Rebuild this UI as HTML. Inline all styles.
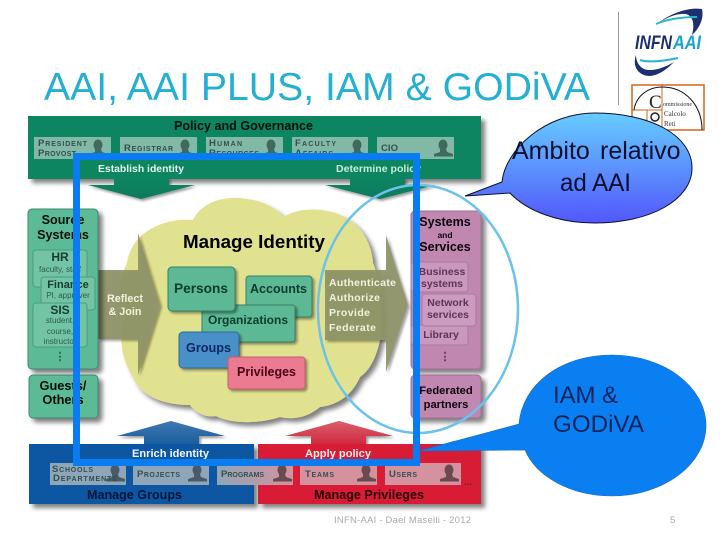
<!DOCTYPE html>
<html><head><meta charset="utf-8"><style>
html,body{margin:0;padding:0;background:#fff}
svg{display:block}
text{font-family:"Liberation Sans",sans-serif}
.b{font-weight:bold}
.c{font-weight:bold;fill:#33504f;font-size:9.5px;font-variant:small-caps}
</style></head><body>
<svg width="720" height="540" viewBox="0 0 720 540" xmlns="http://www.w3.org/2000/svg">
<defs>
<filter id="s" x="-20%" y="-20%" width="150%" height="150%"><feGaussianBlur in="SourceAlpha" stdDeviation="2.5"/><feOffset dx="4" dy="4"/><feComponentTransfer><feFuncA type="linear" slope=".5"/></feComponentTransfer><feMerge><feMergeNode/><feMergeNode in="SourceGraphic"/></feMerge></filter>
<filter id="s2" x="-20%" y="-20%" width="150%" height="150%"><feGaussianBlur in="SourceAlpha" stdDeviation="1.2"/><feOffset dx="2" dy="2"/><feComponentTransfer><feFuncA type="linear" slope=".4"/></feComponentTransfer><feMerge><feMergeNode/><feMergeNode in="SourceGraphic"/></feMerge></filter>
<filter id="soft"><feGaussianBlur stdDeviation="0.25"/></filter>
<linearGradient id="g1" x1="0" y1="0" x2="0" y2="1"><stop offset="0" stop-color="#66ccff"/><stop offset="1" stop-color="#5257fb"/></linearGradient>
<linearGradient id="gp" x1="0" y1="0" x2="1" y2="0"><stop offset="0" stop-color="#8fa6b8"/><stop offset="1" stop-color="#d4929e"/></linearGradient>
<linearGradient id="ga" x1="0" y1="0" x2="0" y2="1"><stop offset="0" stop-color="#0f8560"/><stop offset="1" stop-color="#0c7a5c"/></linearGradient>
<linearGradient id="gb" x1="0" y1="0" x2="0" y2="1"><stop offset="0" stop-color="#3f78b0"/><stop offset="1" stop-color="#1a5ea0"/></linearGradient>
<linearGradient id="gr" x1="0" y1="0" x2="0" y2="1"><stop offset="0" stop-color="#d8606a"/><stop offset="1" stop-color="#d02a40"/></linearGradient>
<g id="man"><ellipse cx="0" cy="-11" rx="4.500" ry="5.500"/><path d="M-3-7h6l1 3 6 2v2.500h-19v-2.500l6-2z"/></g>
</defs>
<rect width="720" height="540" fill="#fff"/>

<text x="44" y="100" font-size="39" fill="#24b0d2" textLength="546" lengthAdjust="spacingAndGlyphs">AAI, AAI PLUS, IAM &amp; GODiVA</text>

<!-- logo -->
<line x1="618.500" y1="12" x2="618.500" y2="105" stroke="#999" stroke-width="1"/>
<path d="M657 24C672 12 690 7 702 9 704 18 700 28 692 35 695 24 693 16 686 14 676 13 666 18 657 24Z" fill="#1c2f6e"/>
<path d="M656 24C670 18 684 17 697 17" fill="none" stroke="#2ab4d0" stroke-width="2"/>
<text x="635" y="49" font-size="19" class="b" font-style="italic" fill="#1c2f6e" textLength="37" lengthAdjust="spacingAndGlyphs">INFN</text>
<text x="673" y="49" font-size="19" class="b" font-style="italic" fill="#1aa4cc" textLength="28" lengthAdjust="spacingAndGlyphs">AAI</text>
<path d="M636 55C632 66 638 76 650 76 660 75 668 68 674 62 664 68 652 72 644 69 638 66 636 60 636 55Z" fill="#1c2f6e"/>
<path d="M640 60C650 63 664 61 678 58" fill="none" stroke="#2ab4d0" stroke-width="2"/>
<rect x="632" y="85" width="72" height="45" fill="#fff" stroke="#d0661a" stroke-width="1.500"/>
<path d="M662 85V130M632 110H662M647 110V130M632 120H647" stroke="#d0661a" fill="none" stroke-width="1"/>
<path d="M634 110C636 96 648 87 662 87 686 87 702 106 702 130" fill="none" stroke="#111" stroke-width="1"/>
<text x="649" y="108" font-size="19" fill="#222" style="font-family:'Liberation Serif',serif">C</text>
<text x="663" y="106" font-size="6" fill="#333" style="font-family:'Liberation Serif',serif">ommissione</text>
<text x="664" y="116" font-size="7" fill="#333" style="font-family:'Liberation Serif',serif">Calcolo</text>
<text x="664" y="126" font-size="7" fill="#333" style="font-family:'Liberation Serif',serif">Reti</text>
<circle cx="655" cy="117" r="4" fill="none" stroke="#222" stroke-width="1.500"/>

<g filter="url(#soft)">
<!-- top panel -->
<rect x="28" y="116" width="453" height="63" fill="#0f8560" filter="url(#s)"/>
<path d="M114 178H169V185H195L141 199 88 185H114Z" fill="url(#ga)" filter="url(#s2)"/>
<path d="M350 178H405V185H435L380 199 325 185H350Z" fill="url(#ga)" filter="url(#s2)"/>
<g fill="#82b8a6">
<rect x="34" y="137" width="77" height="22"/><rect x="120" y="137" width="77" height="22"/><rect x="206" y="137" width="77" height="22"/><rect x="292" y="137" width="76" height="22"/><rect x="377" y="137" width="77" height="22"/>
</g>
<g fill="#3f6b5e">
<use href="#man" x="98" y="156"/><use href="#man" x="185" y="156"/><use href="#man" x="271" y="156"/><use href="#man" x="357" y="156"/><use href="#man" x="443" y="156"/>
</g>
<text x="38" y="146" class="c" textLength="49">President</text><text x="38" y="156" class="c" textLength="38">Provost</text>
<text x="124" y="151" class="c" textLength="49">Registrar</text>
<text x="209" y="146" class="c" textLength="33">Human</text><text x="209" y="156" class="c" textLength="50">Resources</text>
<text x="295" y="146" class="c" textLength="41">Faculty</text><text x="295" y="156" class="c" textLength="38">Affairs</text>
<text x="381" y="151" class="c" textLength="17">CIO</text>
<text x="459" y="158" font-size="10" class="b" fill="#3f6b5e">...</text>
<text x="174" y="130" font-size="12.500" class="b" fill="#050f0a" textLength="139" lengthAdjust="spacingAndGlyphs">Policy and Governance</text>
<text x="98" y="172" font-size="10.300" class="b" fill="#e4f4ec" textLength="86" lengthAdjust="spacingAndGlyphs">Establish identity</text>
<text x="336" y="172" font-size="10.300" class="b" fill="#c8ecd8" textLength="85" lengthAdjust="spacingAndGlyphs">Determine policy</text>

<!-- cloud -->
<path d="M137 240C150 226 170 218 193 220 200 205 218 197 238 198 258 199 275 206 283 217 300 207 325 207 345 217 362 226 372 245 373 263 382 285 384 320 380 340 376 358 370 370 360 377 352 395 338 405 320 407 308 417 295 420 280 417 258 424 232 424 216 416 205 418 195 412 190 405 160 405 138 393 133 377 122 360 119 340 123 323 118 300 119 278 127 263 128 255 132 246 137 240Z" fill="#e1e28f" filter="url(#s)"/>

<!-- arrows in cloud -->
<path d="M98 270H138V233L160 305 138 375V339H98Z" fill="#8e9468" fill-opacity=".92" filter="url(#s2)"/>
<path d="M325 270H386V235L408 305 386 372V340H325Z" fill="#8e9468" fill-opacity=".92" filter="url(#s2)"/>
<text x="125" y="302" font-size="10.800" class="b" fill="#f2f2dc" text-anchor="middle">Reflect</text>
<text x="125" y="315" font-size="10.800" class="b" fill="#f2f2dc" text-anchor="middle">&amp; Join</text>
<g font-size="10.500" class="b" fill="#f2f2dc">
<text x="329" y="286" textLength="67">Authenticate</text>
<text x="329" y="301" textLength="51">Authorize</text>
<text x="329" y="316" textLength="41">Provide</text>
<text x="329" y="331" textLength="47">Federate</text>
</g>
<text x="183" y="248" font-size="18.800" class="b" fill="#000" textLength="142" lengthAdjust="spacingAndGlyphs">Manage Identity</text>

<!-- id boxes -->
<rect x="246" y="276" width="66" height="41" rx="3" fill="#5db895" stroke="#36806a" filter="url(#s2)"/>
<rect x="202" y="305" width="93" height="37" rx="3" fill="#5db895" stroke="#36806a" filter="url(#s2)"/>
<rect x="168" y="267" width="67" height="44" rx="4" fill="#5db895" stroke="#36806a" filter="url(#s2)"/>
<rect x="179" y="332" width="60" height="36" rx="4" fill="#4a90c8" stroke="#2e6a9a" filter="url(#s2)"/>
<rect x="228" y="357" width="77" height="32" rx="3" fill="#ec7a90" stroke="#c85a72" filter="url(#s2)"/>
<g class="b">
<text x="174" y="293" font-size="13.500" fill="#0a3c2f" textLength="54" lengthAdjust="spacingAndGlyphs">Persons</text>
<text x="250" y="293" font-size="12.500" fill="#0a3c2f" textLength="57" lengthAdjust="spacingAndGlyphs">Accounts</text>
<text x="208" y="324" font-size="12" fill="#0a3c2f" textLength="80" lengthAdjust="spacingAndGlyphs">Organizations</text>
<text x="186" y="352" font-size="12.700" fill="#0c2660" textLength="45" lengthAdjust="spacingAndGlyphs">Groups</text>
<text x="237" y="376" font-size="12.500" fill="#4a0618" textLength="59" lengthAdjust="spacingAndGlyphs">Privileges</text>
</g>

<!-- source -->
<rect x="28" y="209" width="70" height="160" rx="4" fill="#5dba96" stroke="#3c8a70" filter="url(#s)"/>
<rect x="29" y="375" width="69" height="43" rx="4" fill="#5dba96" stroke="#3c8a70" filter="url(#s)"/>
<rect x="33" y="250" width="54" height="37" rx="3" fill="#72c4a4" stroke="#4c9c80"/>
<rect x="41" y="277" width="54" height="33" rx="3" fill="#72c4a4" stroke="#4c9c80"/>
<rect x="33" y="303" width="54" height="44" rx="3" fill="#72c4a4" stroke="#4c9c80"/>
<g text-anchor="middle" fill="#040c08">
<text x="63" y="224" font-size="12.600" class="b">Source</text>
<text x="63" y="239" font-size="12.600" class="b">Systems</text>
<text x="60" y="261" font-size="12" class="b" fill="#143e30">HR</text>
<text x="60" y="272" font-size="8" fill="#2c5c4c">faculty, staff</text>
<text x="68" y="288" font-size="11" class="b" fill="#143e30">Finance</text>
<text x="68" y="298" font-size="8" fill="#2c5c4c">PI, approver</text>
<text x="60" y="314" font-size="12" class="b" fill="#143e30">SIS</text>
<text x="60" y="323" font-size="8" fill="#2c5c4c">student,</text>
<text x="60" y="334" font-size="8" fill="#2c5c4c">course,</text>
<text x="60" y="344" font-size="8" fill="#2c5c4c">instructor</text>
<text x="60" y="360" font-size="11" class="b" fill="#2c5c4c">⋮</text>
<text x="63" y="390" font-size="12.800" class="b">Guests/</text>
<text x="63" y="404" font-size="12.800" class="b">Others</text>
</g>

<!-- systems -->
<rect x="411" y="211" width="70" height="158" rx="4" fill="#c088b0" stroke="#a46e98" filter="url(#s)"/>
<rect x="411" y="375" width="70" height="43" rx="4" fill="#c088b0" stroke="#a46e98" filter="url(#s)"/>
<rect x="411" y="262" width="57" height="30" rx="3" fill="#c998bc" stroke="#ac78a0"/>
<rect x="411" y="325" width="57" height="20" rx="3" fill="#c998bc" stroke="#ac78a0"/>
<rect x="422" y="294" width="54" height="32" rx="3" fill="#cc9cc0" stroke="#ac78a0"/>
<g text-anchor="middle" fill="#0a050a">
<text x="445" y="226" font-size="12.500" class="b">Systems</text>
<text x="445" y="238" font-size="8.500" class="b">and</text>
<text x="445" y="251" font-size="12.500" class="b">Services</text>
<text x="442" y="275" font-size="10.500" class="b" fill="#5c3458">Business</text>
<text x="442" y="287" font-size="10.500" class="b" fill="#5c3458">systems</text>
<text x="448" y="306" font-size="10.500" class="b" fill="#5c3458">Network</text>
<text x="448" y="318" font-size="10.500" class="b" fill="#5c3458">services</text>
<text x="441" y="338" font-size="10.500" class="b" fill="#5c3458">Library</text>
<text x="445" y="360" font-size="11" class="b" fill="#5c3458">⋮</text>
<text x="446" y="394" font-size="11.200" class="b">Federated</text>
<text x="446" y="408" font-size="11.200" class="b">partners</text>
</g>

<!-- bottom -->
<path d="M144 444V436H117L171 421 225 436H199V444Z" fill="url(#gb)" filter="url(#s2)"/>
<path d="M311 444V436H285L339 421 393 436H366V444Z" fill="url(#gr)" filter="url(#s2)"/>
<rect x="29" y="444" width="225" height="60" fill="#0a56a2" filter="url(#s)"/>
<rect x="258" y="444" width="223" height="60" fill="#d81c36" filter="url(#s)"/>
<rect x="50" y="463" width="76" height="22" fill="#8fa6b8"/>
<rect x="133" y="463" width="76" height="22" fill="#8fa6b8"/>
<rect x="217" y="463" width="76" height="22" fill="url(#gp)"/>
<rect x="300" y="463" width="77" height="22" fill="#d4929e"/>
<rect x="385" y="463" width="76" height="22" fill="#d4929e"/>
<g fill="#4a5a68">
<use href="#man" x="115" y="481"/><use href="#man" x="197" y="481"/>
</g>
<g fill="#6a4a50">
<use href="#man" x="282" y="481"/><use href="#man" x="366" y="481"/><use href="#man" x="449" y="481"/>
</g>
<text x="52" y="472" class="c" textLength="41">Schools</text><text x="53" y="481" class="c" textLength="64">Departments</text>
<text x="137" y="477" class="c" textLength="43">Projects</text>
<text x="221" y="477" class="c" textLength="43">Programs</text>
<text x="305" y="477" class="c" textLength="29">Teams</text>
<text x="389" y="477" class="c" textLength="28">Users</text>
<text x="464" y="485" font-size="10" class="b" fill="#6a2a30">...</text>
<text x="132" y="457" font-size="11" class="b" fill="#f4f7fc" textLength="77" lengthAdjust="spacingAndGlyphs">Enrich identity</text>
<text x="305" y="457" font-size="11" class="b" fill="#fcecec" textLength="66" lengthAdjust="spacingAndGlyphs">Apply policy</text>
<text x="87" y="499" font-size="12.600" class="b" fill="#04143a" textLength="95" lengthAdjust="spacingAndGlyphs">Manage Groups</text>
<text x="314" y="499" font-size="12.600" class="b" fill="#2a020a" textLength="110" lengthAdjust="spacingAndGlyphs">Manage Privileges</text>
</g>

<!-- highlight ellipse -->
<ellipse cx="418" cy="309" rx="100" ry="124" fill="none" stroke="#6cc2ea" stroke-width="2.500"/>

<!-- blue rectangle -->
<rect x="76.500" y="156.500" width="340" height="306" fill="none" stroke="#0a7cf2" stroke-width="7"/>

<!-- callouts -->
<path d="M465 196L502 182C505 150 545 113 595 113 650 113 692 135 692 168 692 200 650 223 595 223 560 223 528 212 510 193Z" fill="url(#g1)" stroke="#0a1030" stroke-width="1"/>
<text x="512" y="159" font-size="25" fill="#0a1030">Ambito</text>
<text x="600" y="159" font-size="25" fill="#0a1030">relativo</text>
<text x="560" y="191" font-size="25" fill="#0a1030" textLength="71" lengthAdjust="spacingAndGlyphs">ad AAI</text>
<path d="M418 451L519 424C522 385 560 355 612 355 664 355 706 387 706 425.500 706 464 664 496 612 496 570 496 536 476 525 450Z" fill="#0a7ff2" stroke="#1a6ac0" stroke-width=".6"/>
<text x="553" y="403" font-size="24" fill="#08245c" textLength="65" lengthAdjust="spacing">IAM &amp;</text>
<text x="553" y="432" font-size="24" fill="#08245c" textLength="91" lengthAdjust="spacingAndGlyphs">GODiVA</text>

<!-- footer -->
<text x="334" y="523" font-size="9.500" fill="#aaa" textLength="137">INFN-AAI - Dael Maselli - 2012</text>
<text x="670" y="523" font-size="9.500" fill="#aaa">5</text>
</svg>
</body></html>
